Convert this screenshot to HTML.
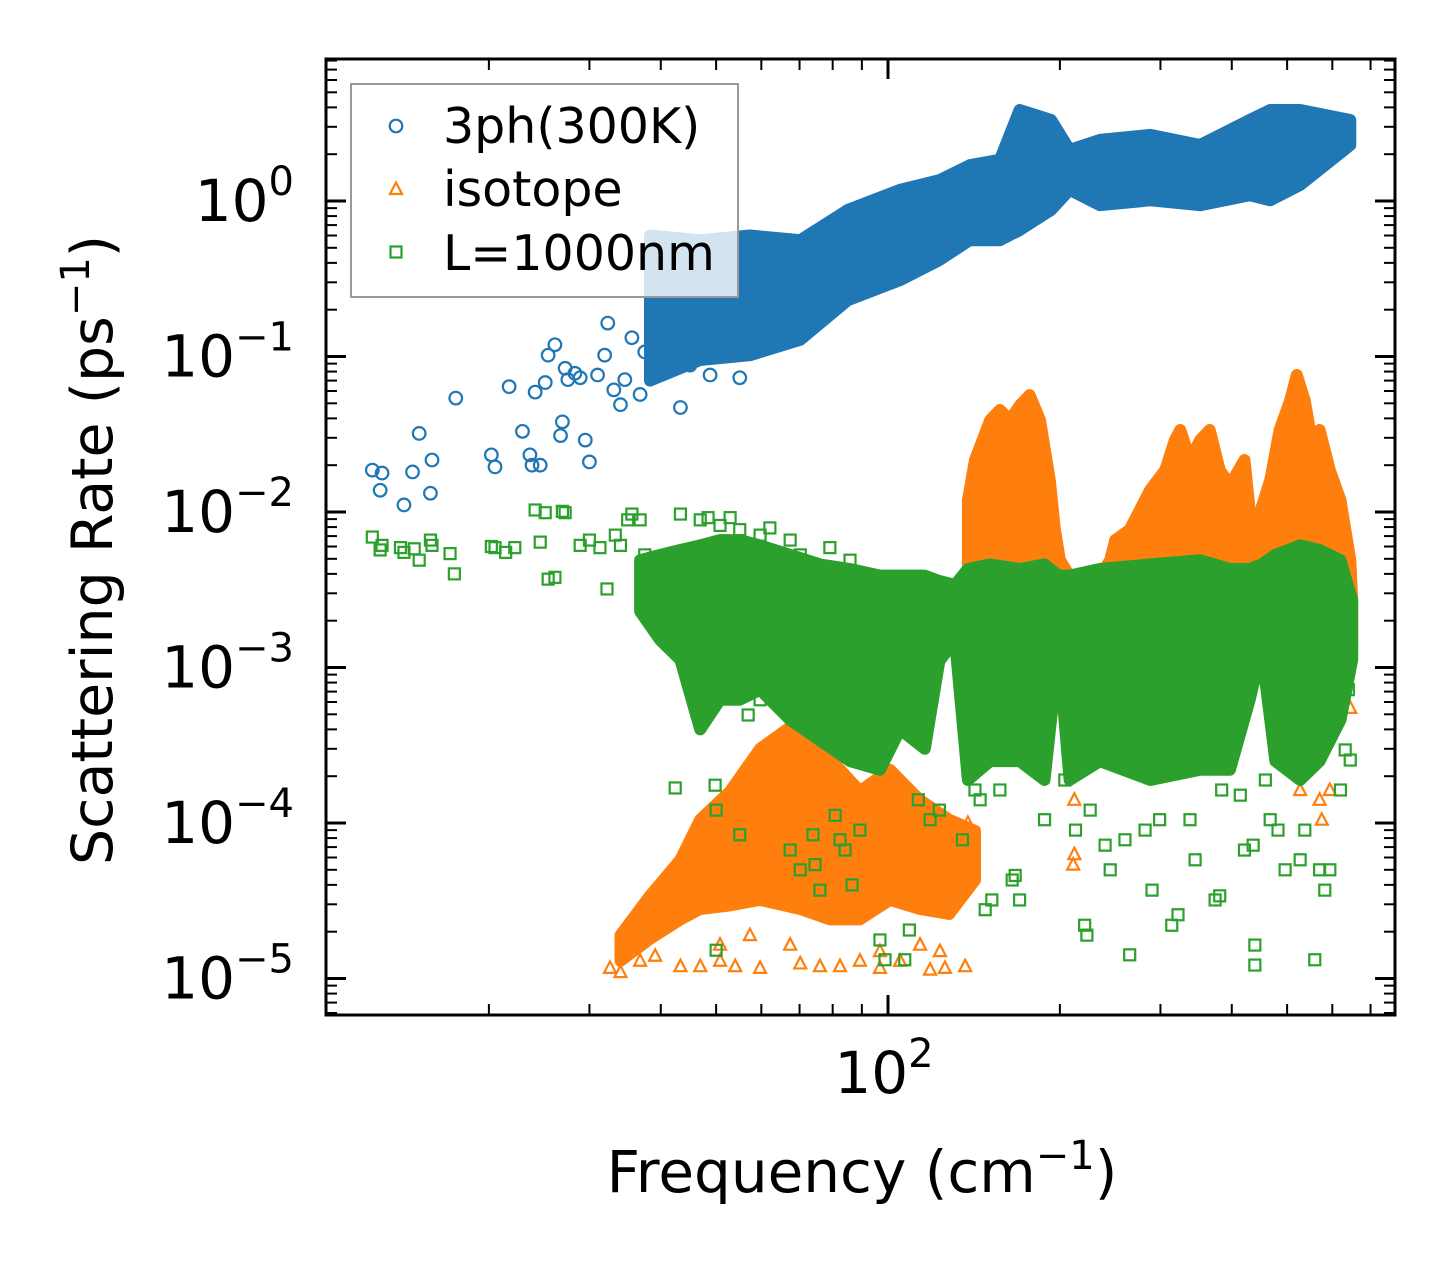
<!DOCTYPE html>
<html><head><meta charset="utf-8">
<style>
html,body{margin:0;padding:0;background:#fff;}
svg{display:block;font-family:"DejaVu Sans","Liberation Sans",sans-serif;}
</style></head>
<body>
<svg id="chart" width="1455" height="1265" viewBox="0 0 1455 1265" xmlns="http://www.w3.org/2000/svg">
  <g id="clip-defs"><defs><clipPath id="plotclip"><rect x="326" y="59" width="1069" height="956"/></clipPath></defs></g>
  <g id="marks" clip-path="url(#plotclip)"></g>
  <g id="axes"></g>
  <g id="legend"></g>
  <text x="0" y="0" transform="translate(112,550) rotate(-90)" text-anchor="middle" font-size="57" fill="#000">Scattering Rate (ps<tspan font-size="40" dy="-23">−1</tspan><tspan dy="23">)</tspan></text>
  <text x="862" y="1192" text-anchor="middle" font-size="58" fill="#000">Frequency (cm<tspan font-size="40" dy="-23">−1</tspan><tspan dy="23">)</tspan></text>
</svg>
<script>
// ---------- data ----------
const bandBlueFreq = [38.3,46.9,57.3,70.2,85,105,123,139,157,170,193,208,235,288,352,430,467,527,645];
const bandBlueLow  = [0.070,0.095,0.102,0.128,0.23,0.31,0.417,0.56,0.56,0.65,0.875,1.18,0.94,1.01,0.94,1.09,1.01,1.27,2.29];
const bandBlueHigh = [0.60,0.56,0.60,0.56,0.875,1.18,1.36,1.70,1.84,3.85,3.32,2.13,2.47,2.66,2.29,3.32,3.85,3.85,3.32];
const blueFreq = [12.5,13.0,12.9,14.2,14.7,15.1,15.8,15.9,17.5,20.2,20.5,21.7,22.9,23.6,23.8,24.1,24.6,25.1,25.4,26.1,26.7,26.9,27.2,27.5,28.3,28.9,29.5,30.0,31.0,31.9,32.3,33.1,34.0,34.6,35.6,36.8,37.5,39.1,39.9,40.7,43.3,44.1,45.0,46.9,48.8,50.8,55.0];
const blueRate = [0.0186,0.0178,0.0138,0.0111,0.0181,0.032,0.0132,0.0216,0.054,0.0233,0.0195,0.064,0.033,0.0233,0.020,0.059,0.020,0.068,0.102,0.119,0.031,0.038,0.084,0.071,0.078,0.073,0.029,0.021,0.076,0.102,0.164,0.061,0.049,0.071,0.132,0.057,0.107,0.082,0.148,0.20,0.047,0.128,0.088,0.102,0.076,0.148,0.073];

const bandIsoLFreq = [34.0,38.3,43.3,46.9,52.9,59.7,70.2,79.1,89.3,100.8,113.8,128,142];
const bandIsoLLow  = [1.3e-5,1.8e-5,2.4e-5,2.8e-5,2.95e-5,3.2e-5,2.8e-5,2.4e-5,2.4e-5,3.2e-5,2.8e-5,2.6e-5,4.3e-5];
const bandIsoLHigh = [1.9e-5,3.4e-5,5.8e-5,1.05e-4,1.6e-4,3.0e-4,4.6e-4,2.6e-4,1.6e-4,2.2e-4,1.4e-4,1.05e-4,8.9e-5];
const bandIsoHFreq = [138,142,151,157,163.5,170.4,177,184.6,192,196,200,221,245,250,265,288,306,318,325,338,352,366,381,397,421,439,444,467,485,506,520,537,552,570,594,620,645,650];
const bandIsoHHigh = [0.0119,0.0216,0.039,0.0453,0.039,0.0488,0.0565,0.039,0.016,0.0077,0.0049,0.0027,0.0049,0.0066,0.0077,0.0139,0.0186,0.029,0.0337,0.0216,0.029,0.0337,0.0186,0.0149,0.0216,0.0049,0.0089,0.016,0.0337,0.052,0.076,0.052,0.029,0.0337,0.0186,0.0119,0.0049,0.0027];
const bandIsoHLow = 0.0013;
const isoFreq = [32.6,34.0,36.8,39.1,43.3,46.9,50.8,54.0,59.7,70.2,76.0,82.4,89.3,96.8,105,118.5,125.8,136.5,50.8,57.3,67.4,96.8,113.8,123.3,211,212,212,527,547,570,575,594,645,139,140,138];
const isoRate = [1.17e-5,1.1e-5,1.3e-5,1.4e-5,1.2e-5,1.2e-5,1.3e-5,1.2e-5,1.17e-5,1.25e-5,1.2e-5,1.2e-5,1.3e-5,1.17e-5,1.3e-5,1.14e-5,1.17e-5,1.2e-5,1.65e-5,1.9e-5,1.65e-5,1.5e-5,1.65e-5,1.5e-5,5.4e-5,6.3e-5,1.41e-4,1.63e-4,2.54e-4,1.41e-4,1.05e-4,1.63e-4,5.5e-4,6.1e-4,2.6e-4,1.0e-4];

const bandGrnFreq = [36.8,39.9,43.3,46.9,50.8,55.0,59.7,67.4,76.0,85.8,96.8,105,116,123,131,138,151,170,188,199,208,235,288,352,397,430,451,477,527,570,620,650];
const bandGrnLow  = [0.0023,0.0015,0.00112,0.0004,0.00062,0.00062,0.00072,0.00046,0.00034,0.00025,0.00022,0.0004,0.0003,0.0011,0.0015,1.89e-4,0.00025,0.00025,1.89e-4,0.0013,1.89e-4,0.00025,1.89e-4,0.00022,0.00022,0.00062,0.0013,0.00025,1.89e-4,0.00025,0.00046,0.00112];
const bandGrnHigh = [0.0049,0.0053,0.0057,0.0061,0.0066,0.0066,0.0061,0.0053,0.0046,0.0043,0.0039,0.0039,0.0039,0.0036,0.0034,0.0043,0.0046,0.0043,0.0046,0.0039,0.0039,0.0043,0.0046,0.0049,0.0043,0.0043,0.0046,0.0053,0.0061,0.0057,0.0049,0.0027];
const grnFreq = [12.5,12.9,13.0,14.0,14.2,14.8,15.1,15.8,15.9,17.1,17.4,20.2,20.5,21.4,22.2,24.1,24.6,25.1,25.4,26.1,26.9,27.2,28.9,30.0,31.3,32.2,33.3,34.0,35.0,35.6,36.8,37.5,39.1,39.9,43.3,46.9,48.4,50.8,52.9,55.0,59.7,62.1,67.4,70.2,79.1,85.8,
 42.4,49.8,50.0,50.0,55.0,56.9,59.7,67.4,70.2,73.9,74.5,76.0,80.8,82.4,84.1,86.5,89.3,96.8,98.8,107,109,113,118.5,123,135,142,145,148,152,157,165,167,170,188,204,213,221,223,226,240,245,260,265,282,290,299,314,322,338,345,374,381,384,414,421,436,439,439,458,467,482,496,527,537,559,570,582,594,620,632,640,645];
const grnRate = [0.0069,0.0057,0.0061,0.0059,0.0055,0.0058,0.0049,0.0066,0.0061,0.0054,0.0040,0.0060,0.0059,0.0055,0.0059,0.0103,0.0064,0.0099,0.0037,0.0038,0.0101,0.0099,0.0061,0.0066,0.0059,0.0032,0.0071,0.0061,0.0089,0.0097,0.0089,0.0053,0.0023,0.0027,0.0097,0.0089,0.0092,0.0082,0.0092,0.0077,0.0071,0.0079,0.0066,0.0053,0.0059,0.0049,
 1.68e-4,1.75e-4,1.21e-4,1.52e-5,8.4e-5,4.95e-4,6.2e-4,6.7e-5,5.0e-5,8.4e-5,5.4e-5,3.7e-5,1.12e-4,7.8e-5,6.7e-5,4.0e-5,9.0e-5,1.77e-5,1.32e-5,1.32e-5,2.05e-5,1.41e-4,1.05e-4,1.21e-4,7.8e-5,1.63e-4,1.41e-4,2.77e-5,3.2e-5,1.63e-4,4.3e-5,4.6e-5,3.2e-5,1.05e-4,1.89e-4,9.0e-5,2.2e-5,1.9e-5,1.21e-4,7.2e-5,5.0e-5,7.8e-5,1.42e-5,9.0e-5,3.7e-5,1.05e-4,2.2e-5,2.57e-5,1.05e-4,5.8e-5,3.2e-5,3.4e-5,1.63e-4,1.51e-4,6.7e-5,7.2e-5,1.64e-5,1.22e-5,1.89e-4,1.05e-4,9.0e-5,5.0e-5,5.8e-5,9.0e-5,1.32e-5,5.0e-5,3.7e-5,5.0e-5,1.63e-4,2.95e-4,7.2e-4,2.54e-4];

const yTickExps = [0,-1,-2,-3,-4,-5];
const xTickExps = [2];

// ---------- axes ----------
const PX = {left:326, right:1395, top:59, bottom:1015};
const X0 = 888, XDEC = 571, Y0 = 201, YDEC = 155.5;
function xs(f){ return X0 + (Math.log10(f) - 2) * XDEC; }
function ys(r){ return Y0 - Math.log10(r) * YDEC; }

const NS = 'http://www.w3.org/2000/svg';
function mk(tag, attrs, parent){
  const el = document.createElementNS(NS, tag);
  for (const k in attrs) el.setAttribute(k, attrs[k]);
  if (parent) parent.appendChild(el);
  return el;
}
const C_BLUE='#1f77b4', C_ORANGE='#ff7f0e', C_GREEN='#2ca02c';
const marks = document.getElementById('marks');

function drawBand(freqs, lows, highs, color, name){
  const pts = [];
  for (let i=0;i<freqs.length;i++) pts.push(xs(freqs[i]).toFixed(1)+','+ys(highs[i]).toFixed(1));
  for (let i=freqs.length-1;i>=0;i--){
    const lo = Array.isArray(lows) ? lows[i] : lows;
    pts.push(xs(freqs[i]).toFixed(1)+','+ys(lo).toFixed(1));
  }
  const p = mk('polygon', {points: pts.join(' '), fill: color, stroke: color, 'stroke-width': 12, 'stroke-linejoin':'round'}, marks);
  
  
}
function circle(cx, cy, g){
  return mk('circle', {cx:cx, cy:cy, r:6.3, fill:'none', stroke:C_BLUE, 'stroke-width':2.2}, g);
}
function tri(cx, cy, g){
  return mk('polygon', {points:`${cx},${cy-6.5} ${cx+6},${cy+5} ${cx-6},${cy+5}`, fill:'none', stroke:C_ORANGE, 'stroke-width':2.2}, g);
}
function sq(cx, cy, g){
  return mk('rect', {x:cx-5.5, y:cy-5.5, width:11, height:11, fill:'none', stroke:C_GREEN, 'stroke-width':2.2}, g);
}

const gBlue = mk('g', {}, marks);


drawBand(bandBlueFreq, bandBlueLow, bandBlueHigh, C_BLUE, 'band-3ph');
for (let i=0;i<blueFreq.length;i++){
  const c = circle(xs(blueFreq[i]), ys(blueRate[i]), gBlue);
  
  
}
drawBand(bandIsoLFreq, bandIsoLLow, bandIsoLHigh, C_ORANGE, 'band-isotope-low');
drawBand(bandIsoHFreq, bandIsoHLow, bandIsoHHigh, C_ORANGE, 'band-isotope-high');
const gIso = mk('g', {}, marks);


for (let i=0;i<isoFreq.length;i++){
  const t = tri(xs(isoFreq[i]), ys(isoRate[i]), gIso);
  
  
}
drawBand(bandGrnFreq, bandGrnLow, bandGrnHigh, C_GREEN, 'band-l1000nm');
const gGrn = mk('g', {}, marks);


for (let i=0;i<grnFreq.length;i++){
  const s = sq(xs(grnFreq[i]), ys(grnRate[i]), gGrn);
  
  
}

// ---------- frame & ticks ----------
const axes = document.getElementById('axes');
const frame = mk('rect', {x:PX.left, y:PX.top, width:PX.right-PX.left, height:PX.bottom-PX.top, fill:'none', stroke:'#000', 'stroke-width':3}, axes);


function tickLine(x1,y1,x2,y2,w){ return mk('line',{x1:x1,y1:y1,x2:x2,y2:y2,stroke:'#000','stroke-width':w},axes); }
for (let e=-6;e<=1;e++){
  for (let m=1;m<=9;m++){
    const y = ys(m*Math.pow(10,e));
    if (y < PX.top || y > PX.bottom) continue;
    const major = m===1, L = major?20:11, w = major?3:2;
    tickLine(PX.left, y, PX.left+L, y, w);
    tickLine(PX.right, y, PX.right-L, y, w);
  }
}
for (let e=1;e<=2;e++){
  for (let m=1;m<=9;m++){
    const x = xs(m*Math.pow(10,e));
    if (x < PX.left || x > PX.right) continue;
    const major = m===1, L = major?20:11, w = major?3:2;
    tickLine(x, PX.bottom, x, PX.bottom-L, w);
    tickLine(x, PX.top, x, PX.top+L, w);
  }
}
for (const e of yTickExps){
  const y = ys(Math.pow(10,e));
  const t = mk('text', {x:294, y:y+20, 'text-anchor':'end', 'font-size':58, fill:'#000'}, axes);
  
  
  const b = mk('tspan', {}, t);
  b.textContent = '10';
  const s = mk('tspan', {'font-size':40, dy:-26}, t);
  s.textContent = e===0 ? '0' : '−' + Math.abs(e);
}
for (const e of xTickExps){
  const x = xs(Math.pow(10,e));
  const t = mk('text', {x:x-4, y:1093, 'text-anchor':'middle', 'font-size':58, fill:'#000'}, axes);
  
  
  const b = mk('tspan', {}, t);
  b.textContent = '10';
  const s = mk('tspan', {'font-size':40, dy:-26}, t);
  s.textContent = String(e);
}

// ---------- legend ----------
const lg = document.getElementById('legend');
const box = mk('rect', {x:351, y:84, width:387, height:213, fill:'rgba(255,255,255,0.8)', stroke:'#999', 'stroke-width':2}, lg);


const le1 = circle(396, 126, lg);


const le2 = tri(396, 189, lg);


const le3 = sq(396, 252, lg);


const labels = ['3ph(300K)','isotope','L=1000nm'];
const baselines = [143, 206, 270];
for (let i=0;i<3;i++){
  const t = mk('text', {x:443, y:baselines[i], 'font-size':49, fill:'#000'}, lg);
  t.textContent = labels[i];
  
  
}
</script>
</body></html>
